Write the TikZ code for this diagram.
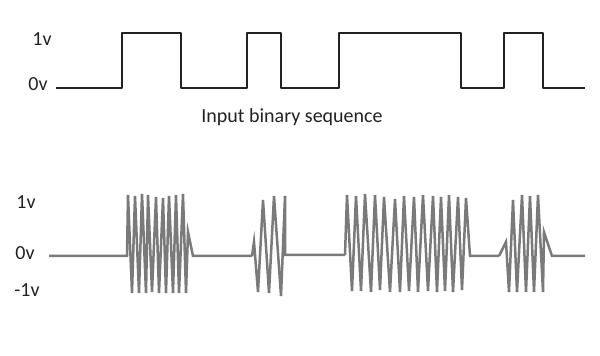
\documentclass[tikz,border=0pt]{standalone}
\usepackage{fontspec}
\setmainfont{Carlito}
\usepackage{tikz}

\definecolor{datacol}{HTML}{222222}
\definecolor{askcol}{HTML}{7A7A7A}

\begin{document}
\begin{tikzpicture}[x=0.5pt, y=-0.5pt, font=\fontsize{10}{12}\selectfont,
    lbl/.style={text=datacol, inner sep=0pt},
    bitline/.style={datacol, line width=1.25pt, line join=round},
    askline/.style={askcol, line width=1.25pt, line join=miter}]
  \useasboundingbox (0,0) rectangle (600,356);
  % input bits
  \node[lbl] (hiA) at (42,39) {1v};
  \node[lbl] (loA) at (38,84) {0v};
  \draw[bitline] (56,88) -- (122,88) -- (122,33) -- (181,33) -- (181,88)
    -- (247,88) -- (247,33) -- (281,33) -- (281,88)
    -- (339,88) -- (339,33) -- (461,33) -- (461,88)
    -- (504,88) -- (504,33) -- (543,33) -- (543,88) -- (585,88);
  \node[lbl] (caption) at (292,117) {Input binary sequence};
  % modulated carrier
  \node[lbl] (hiB) at (26,202) {1v};
  \node[lbl] (zeroB) at (25,253) {0v};
  \node[lbl] (loB) at (27,290) {-1v};
  % first burst
  \draw[askline] plot[sharp plot] coordinates {
    (49,256) (127,256) (128,195) (132,293) (135,196) (139,293) (142,194)
    (146,293) (148,195) (152,292) (156,197) (159,293) (163,198) (166,293)
    (169,196) (173,293) (176,195) (179,293) (183,194) (186,293)
    (188,232) (193,256) (252,256)};
  % second burst
  \draw[askline] plot[sharp plot] coordinates {
    (252,256) (254,242) (258,292) (263,200) (269,293) (274,196) (281,296)
    (285,196) (285,255) (345,255)};
  % third burst
  \draw[askline] plot[sharp plot] coordinates {
    (345,255) (347,195) (352,291) (356,196) (361,291) (365,194) (371,292)
    (375,195) (380,290) (384,197) (390,292) (395,199) (400,292) (404,196)
    (409,291) (414,197) (418,292) (423,195) (428,291) (433,196) (437,292)
    (441,197) (445,291) (449,195) (453,292) (458,197) (462,290) (466,198)
    (470,256) (499,256)};
  % fourth burst
  \draw[askline] plot[sharp plot] coordinates {
    (499,256) (506,242) (509,292) (513,200) (517,292) (522,195) (526,292)
    (530,196) (534,292) (538,195) (543,292) (544,232) (552,256) (585,256)};
\end{tikzpicture}
\end{document}
